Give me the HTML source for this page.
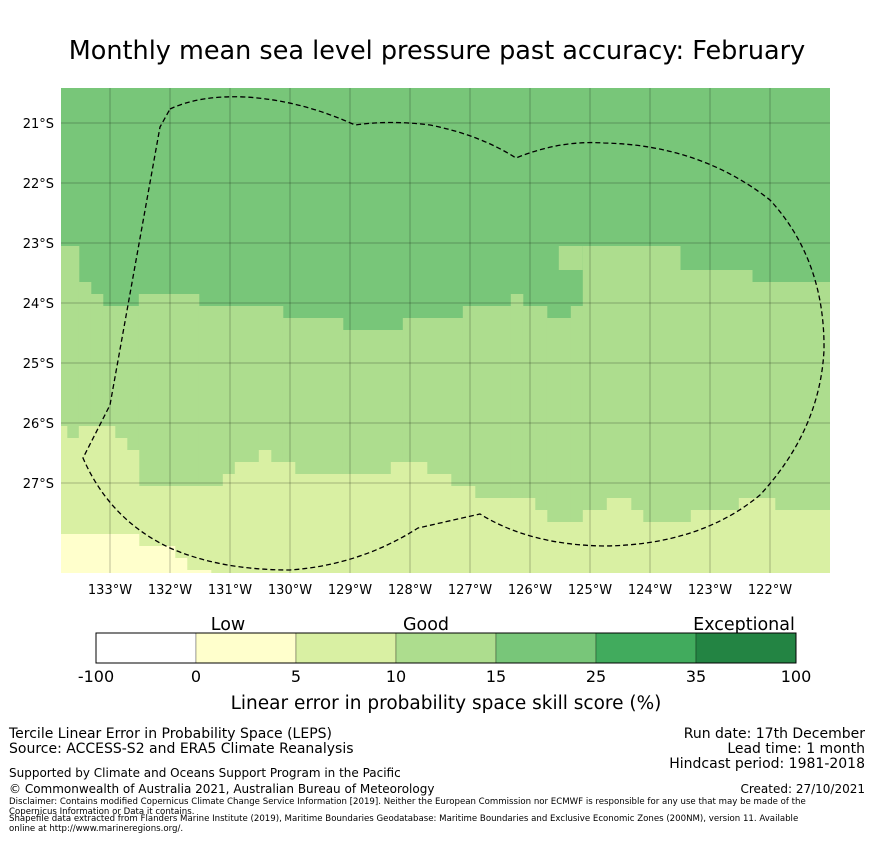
<!DOCTYPE html>
<html><head><meta charset="utf-8"><style>
body{margin:0;background:#fff;font-family:"Liberation Sans","DejaVu Sans",sans-serif}
svg text{font-family:"DejaVu Sans","Liberation Sans",sans-serif}
</style></head><body>
<svg id="c" width="873" height="839" viewBox="0 0 873 839">
<text x="437" y="59" font-size="25.5" text-anchor="middle">Monthly mean sea level pressure past accuracy: February</text>
<g id="map"></g>
<g id="ticks"></g>
<g id="cbar"></g>
<text x="446" y="709" font-size="18.5" text-anchor="middle">Linear error in probability space skill score (%)</text>
<g font-size="14">
<text x="9" y="738">Tercile Linear Error in Probability Space (LEPS)</text>
<text x="9" y="753">Source: ACCESS-S2 and ERA5 Climate Reanalysis</text>
<text x="865" y="738" text-anchor="end">Run date: 17th December</text>
<text x="865" y="753" text-anchor="end">Lead time: 1 month</text>
<text x="865" y="768" text-anchor="end">Hindcast period: 1981-2018</text>
<text x="9" y="777" font-size="12">Supported by Climate and Oceans Support Program in the Pacific</text>
<text x="9" y="793" font-size="12">© Commonwealth of Australia 2021, Australian Bureau of Meteorology</text>
<text x="865" y="793" font-size="12" text-anchor="end">Created: 27/10/2021</text>
<text x="9" y="804" font-size="8.6">Disclaimer: Contains modified Copernicus Climate Change Service Information [2019]. Neither the European Commission nor ECMWF is responsible for any use that may be made of the</text>
<text x="9" y="814" font-size="8.6">Copernicus Information or Data it contains.</text>
<text x="9" y="821" font-size="8.6">Shapefile data extracted from Flanders Marine Institute (2019), Maritime Boundaries Geodatabase: Maritime Boundaries and Exclusive Economic Zones (200NM), version 11. Available</text>
<text x="9" y="831" font-size="8.6">online at http://www.marineregions.org/.</text>
</g>
</svg>
<script>
// boundaries: [start longitude °W, boundary latitude °S]
const goodBoundary=[[133.82,23.05],[133.52,23.65],[133.32,23.85],[133.12,24.05],[132.52,23.85],[131.52,24.05],[130.12,24.25],[129.12,24.45],[128.12,24.25],[127.12,24.05],[126.32,23.85],[126.12,24.05],[125.72,24.25],[125.32,24.05],[125.12,23.05],[123.5,23.45],[122.3,23.65]];
const fairBoundary=[[133.82,26.05],[133.72,26.25],[133.52,26.05],[132.92,26.25],[132.72,26.45],[132.52,27.05],[131.12,26.85],[130.92,26.65],[130.52,26.45],[130.32,26.65],[129.92,26.85],[128.32,26.65],[127.72,26.85],[127.32,27.05],[126.92,27.25],[125.92,27.45],[125.72,27.65],[125.12,27.45],[124.72,27.25],[124.32,27.45],[124.12,27.65],[123.32,27.45],[122.52,27.25],[121.92,27.45]];
const lowBoundary=[[133.82,27.85],[132.52,28.05],[131.92,28.25],[131.72,28.45],[131.32,28.7]];
const notch=[125.52,125.12,23.05,23.45];
const latTicks=[21,22,23,24,25,26,27];
const lonTicks=[133,132,131,130,129,128,127,126,125,124,123,122];
const cbColors=['#ffffff','#ffffcc','#d9f0a3','#addd8e','#78c679','#41ab5d','#238443'];
const cbLabels=['-100','0','5','10','15','25','35','100'];
const cbCats=[['Low',1.32],['Good',3.3],['Exceptional',6.48]];

const NS='http://www.w3.org/2000/svg';
const X=l=>110+(133-l)*60, Y=l=>123+(l-21)*60;
const L=61,R=830,T=88,B=573;
function mk(p,t,a){const e=document.createElementNS(NS,t);for(const k in a)e.setAttribute(k,a[k]);p.appendChild(e);return e;}
const map=document.getElementById('map');
const clip=mk(map,'clipPath',{id:'mc'});mk(clip,'rect',{x:L,y:T,width:R-L,height:B-T});
const g=mk(map,'g',{'clip-path':'url(#mc)'});
let bg=mk(g,'rect',{x:L,y:T,width:R-L,height:B-T,fill:'#78c679'});

function band(arr,col,name){arr.forEach((s,i)=>{const x0=Math.max(L,X(s[0]));const x1=i<arr.length-1?X(arr[i+1][0]):R;const y0=Y(s[1]);
 const r=mk(g,'rect',{x:x0,y:y0,width:x1-x0+0.5,height:B-y0+1,fill:col});
 
 });}
band(goodBoundary,'#addd8e','skill-10-15-cell');
let n=mk(g,'rect',{x:X(notch[0]),y:Y(notch[2]),width:X(notch[1])-X(notch[0]),height:Y(notch[3])-Y(notch[2]),fill:'#addd8e'});

band(fairBoundary,'#d9f0a3','skill-5-10-cell');
band(lowBoundary,'#ffffcc','skill-0-5-cell');
const tk=document.getElementById('ticks');
latTicks.forEach(v=>{const y=Y(v);const l=mk(g,'line',{x1:L,x2:R,y1:y,y2:y,stroke:'#000','stroke-opacity':0.25,'stroke-width':1});
 
 const t=mk(tk,'text',{x:54,y:y+5,'font-size':13,'text-anchor':'end'});t.textContent=v+'°S';
 });
lonTicks.forEach(v=>{const x=X(v);const l=mk(g,'line',{x1:x,x2:x,y1:T,y2:B,stroke:'#000','stroke-opacity':0.25,'stroke-width':1});
 
 const t=mk(tk,'text',{x:x,y:594,'font-size':13,'text-anchor':'middle'});t.textContent=v+'°W';
 });
const eez=mk(g,'path',{d:'M170,109 Q200,95 245,97 Q300,100 355,125 Q390,120 430,125 Q480,135 516,158 Q560,140 604,143 Q700,145 770,200 Q825,260 824,350 Q820,430 760,495 Q700,545 604,546 Q530,545 480,514 L418,528 Q360,565 290,570 Q220,570 170,548 Q110,520 83,458 L110,405 L160,127 Z',fill:'none',stroke:'#000','stroke-width':1.3,'stroke-dasharray':'5,3'});

const cb=document.getElementById('cbar');
cbColors.forEach((c,i)=>{const r=mk(cb,'rect',{x:96+i*100,y:633,width:100,height:30,fill:c,stroke:'#000','stroke-width':0.3});
 });
mk(cb,'rect',{x:96,y:633,width:700,height:30,fill:'none',stroke:'#000','stroke-width':1});
cbLabels.forEach((s,i)=>{const t=mk(cb,'text',{x:96+i*100,y:682,'font-size':16,'text-anchor':'middle'});t.textContent=s;
 });
cbCats.forEach(c=>{const t=mk(cb,'text',{x:96+c[1]*100,y:630,'font-size':17.5,'text-anchor':'middle'});t.textContent=c[0];
 });
</script>
</body></html>
